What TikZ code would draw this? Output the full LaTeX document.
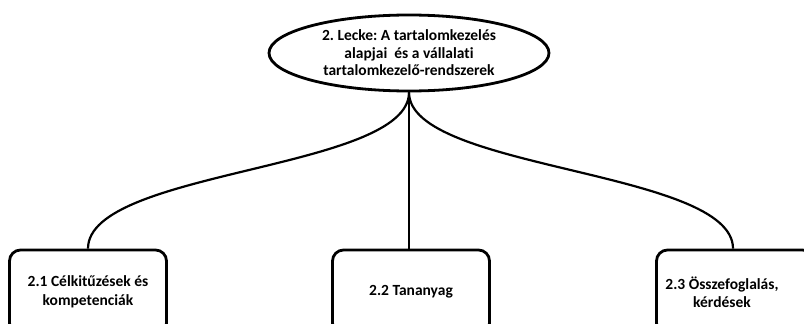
\documentclass[tikz,border=0pt]{standalone}
\usepackage{fontspec}
\setmainfont{Carlito}[Ligatures={NoCommon}]
\frenchspacing
\usetikzlibrary{shapes.geometric}
\begin{document}
\begin{tikzpicture}[
    x=1pt, y=-1pt,
    lesson/.style={ellipse, draw, line width=2.8pt, minimum width=280pt, minimum height=76pt, inner sep=0pt, align=center, font=\bfseries\fontsize{15.5}{17.5}\selectfont},
    block/.style={rectangle, draw, line width=2.8pt, rounded corners=11pt, minimum width=157pt, minimum height=84pt, align=center, font=\bfseries\fontsize{15.5}{18.5}\selectfont},
    line/.style={draw, line width=2.2pt}
    ]
    \clip (0,0) rectangle (804,324);
    \node [lesson] (lesson) at (409,53) {2. Lecke: A tartalomkezelés\\alapjai\ \ és a vállalati\\tartalomkezelő-rendszerek};
    \node [block] (goals) at (88,292) {2.1 Célkitűzések és\\kompetenciák};
    \node [block] (material) at (411,292) {2.2 Tananyag};
    \node [block] (summary) at (735,292) {};
    \node [align=center, font=\bfseries\fontsize{15.5}{18.5}\selectfont] (summarytext) at ([xshift=-13pt]summary.center) {2.3 Összefoglalás,\\kérdések};

    \draw [line] (lesson.south) .. controls +(0,78) and +(0,-79) .. (goals.north);
    \draw [line] (lesson.south) -- (lesson.south |- material.north);
    \draw [line] (lesson.south) .. controls +(0,78) and +(0,-79) .. ([xshift=-2pt]summary.north);
\end{tikzpicture}
\end{document}
